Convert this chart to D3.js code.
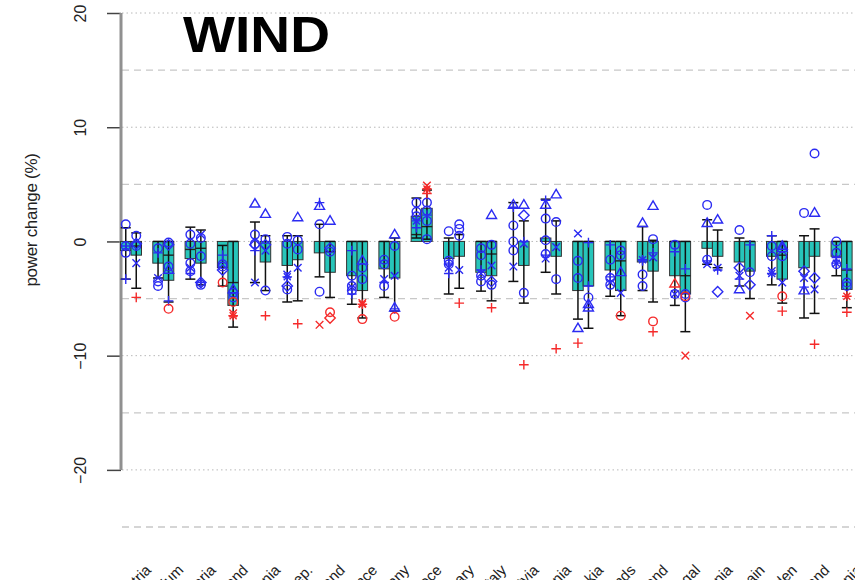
<!DOCTYPE html>
<html>
<head>
<meta charset="utf-8">
<script src="https://cdn.jsdelivr.net/npm/d3@7/dist/d3.min.js"></script>
<style>
  html, body { margin: 0; padding: 0; background: #fff; }
  svg { display: block; font-family: "Liberation Sans", Arial, sans-serif; }
</style>
</head>
<body>
<svg id="chart" width="855" height="580"></svg>
<script>
// Countries along the x axis
const countries = ["Austria","Belgium","Bulgaria","Switzerland","Estonia","Czech Rep.","Finland","France","Germany","Greece","Hungary","Italy","Latvia","Lithuania","Slovakia","Netherlands","Poland","Portugal","Romania","Spain","Sweden","Ireland","Slovenia"];

// Ensemble-mean bars (left and right scenario per country), power change in %
const barA = [-0.8,-1.9,-1.5,-2.3,0,-2.1,-1.0,-3.0,-2.4,2.2,-1.5,-2.7,0,0.3,-4.3,-2.5,-1.8,-3.0,-0.6,-1.8,-1.3,-2.3,-1.3];
const barB = [-1.2,-3.4,-1.9,-5.6,-1.8,-1.6,-2.7,-4.3,-3.2,2.9,-1.3,-3.0,-2.1,-1.3,-3.9,-4.3,-2.6,-4.6,-1.3,-2.6,-3.3,-1.3,-4.2];

// Median lines inside the bars (null = none drawn)
const midA = [null,null,-0.7,null,null,null,null,null,null,0.6,null,null,null,null,null,null,null,null,null,null,null,null,null];
const midB = [-0.4,-1.2,-0.6,-3.6,null,null,-0.9,null,null,1.3,null,-1.1,null,null,null,-1.7,null,-3.0,null,null,-1.2,null,-2.5];

// Whisker ranges
const hiA = [1.2,0,1.25,-0.35,1.7,0.5,1.5,0,0,3.8,0.3,0,3.4,3.7,0,0,1.3,0,1.9,0.3,0.5,0.5,0];
const loA = [-3.3,-3.2,-3.3,-3.9,-3.6,-5.3,-3.1,-5.5,-4.9,0.3,-4.6,-4.35,-3.5,-2.7,-6.8,-4.8,-4.3,-5.6,-2.0,-3.9,-3.8,-6.7,-3.0];
const hiB = [0.75,0,1.0,0,0.5,0.5,0,0,0.3,4.5,0.6,0,1.8,1.8,0,0,0.1,0,1.0,0,0,1.1,0];
const loB = [-4.1,-5.3,-3.8,-7.5,-4.3,-5.2,-4.9,-6.7,-6.1,0.2,-4.1,-5.2,-5.4,-4.6,-7.6,-6.5,-5.3,-7.9,-2.3,-5.0,-5.4,-6.3,-5.8];

// Individual model results: [symbol, value]; o circle, t triangle, + plus, x cross, d diamond, * star
const modelsA = [
  [["o",1.5],["o",-0.4],["o",-1.0],["+",-0.4],["+",-3.3]],
  [["+",-1.0],["o",-0.6],["x",-3.2],["o",-3.5],["o",-3.9]],
  [["o",0.6],["o",-0.2],["o",-1.9],["x",-2.3],["+",-2.8],["o",-2.6]],
  [["+",-1.2],["o",-2.0],["d",-2.5],["o",-2.2]],
  [["t",3.3],["o",0.6],["o",-0.2],["+",-0.8],["x",-3.6],["d",-0.3]],
  [["o",0.4],["o",-0.2],["x",-2.9],["*",-3.1],["o",-4.2],["d",-3.9]],
  [["t",3.1],["+",3.4],["o",1.5],["o",-4.4]],
  [["+",-0.8],["o",-3.0],["o",-3.9],["o",-4.3],["+",-4.6],["x",-4.0]],
  [["o",-2.0],["o",-1.6],["x",-3.3],["o",-3.9],["+",-3.6]],
  [["o",3.4],["o",2.6],["o",2.2],["*",1.8],["+",1.2]],
  [["o",0.9],["o",-1.7],["o",-2.0],["x",-2.3],["+",-2.8],["+",-1.9]],
  [["o",-0.6],["o",-1.2],["+",-2.5],["o",-3.0],["o",-3.5],["x",-2.8]],
  [["t",3.2],["+",3.0],["o",1.4],["o",0.0],["o",-0.8],["x",-2.2]],
  [["t",3.2],["+",3.6],["o",2.0],["o",0.1],["o",-1.1],["x",-1.5],["+",-1.2]],
  [["x",0.7],["o",-1.7],["o",-3.2],["t",-7.6]],
  [["+",-0.3],["o",-1.6],["o",-3.2],["o",-3.8],["x",-3.6],["+",-3.1]],
  [["t",1.6],["*",-1.6],["o",-2.9],["o",-3.9],["+",-1.7]],
  [["o",-0.3],["+",-0.9],["o",-4.6],["x",-4.6]],
  [["o",3.2],["t",1.6],["+",-1.7],["o",-1.6],["x",-2.0]],
  [["o",1.0],["d",-2.3],["x",-3.0],["t",-4.2],["+",-3.3]],
  [["+",0.5],["o",-0.4],["o",-1.3],["x",-2.6],["*",-2.8]],
  [["o",2.5],["d",-2.6],["x",-3.2],["t",-4.3],["+",-4.0]],
  [["o",0],["o",-1.0],["+",-1.4],["*",-1.9],["o",-2.0]]
];
const modelsB = [
  [["o",0.5],["o",-0.4],["d",-0.2],["x",-1.9]],
  [["o",-0.1],["d",-0.3],["t",-2.5],["o",-2.2],["+",-5.2]],
  [["o",0.3],["x",0.6],["o",-1.3],["o",-3.8],["d",-3.6],["+",-3.6]],
  [["o",-4.5],["o",-4.9],["t",-4.2]],
  [["t",2.4],["o",0.2],["x",-0.8],["o",-4.3],["d",-0.3]],
  [["t",2.1],["o",0.1],["o",-0.7],["x",-2.3]],
  [["t",1.8],["o",-0.9],["d",-0.6]],
  [["t",-1.7],["o",-2.3],["o",-3.3]],
  [["t",0.6],["o",-0.4],["x",-3.0],["t",-5.8],["+",-5.9]],
  [["o",3.4],["o",2.7],["o",1.8],["o",0.2],["+",2.3]],
  [["o",1.5],["o",1.1],["o",0.5],["x",-2.5]],
  [["t",2.3],["o",-0.3],["x",-2.1],["o",-3.8],["d",-3.5]],
  [["t",3.2],["d",2.3],["+",0.0],["x",-0.2],["o",-4.5]],
  [["t",4.1],["o",1.7],["x",-0.5],["o",-3.3]],
  [["+",-0.1],["+",-3.9],["o",-4.9],["t",-5.8],["t",-5.5]],
  [["o",-0.8],["t",-2.7],["x",-4.5],["o",-1.2]],
  [["t",3.1],["o",0.2],["x",-1.4],["+",-1.0]],
  [["+",-2.4],["o",-4.6],["o",-4.9]],
  [["t",1.9],["x",-2.3],["+",-2.5],["d",-4.4]],
  [["+",-0.3],["o",-2.7],["d",-3.8]],
  [["t",-0.4],["o",-1.3],["x",-3.6],["t",-0.6]],
  [["o",7.7],["t",2.5],["d",-3.2],["x",-4.2]],
  [["o",-3.6],["o",-3.9],["+",-2.4]]
];

// Outlying model results, drawn in red
const outliersA = [
  [],[],[],[["o",-3.6]],[],[],[["x",-7.3]],[],[],[],[],[],[],[],[["+",-8.9]],[],[],[["t",-3.7]],[],[],[],[],[]
];
const outliersB = [
  [["+",-4.9]],[["o",-5.9]],[],[["o",-5.3],["*",-6.5],["x",-6.3]],[["+",-6.5]],[["+",-7.2]],[["o",-6.2],["d",-6.7]],
  [["x",-5.4],["*",-5.5],["o",-6.8]],[["o",-6.6]],[["*",4.6],["x",4.9],["+",4.2]],[["+",-5.4]],[["+",-5.8]],
  [["+",-10.8]],[["+",-9.4]],[],[["o",-6.5]],[["o",-7.0],["+",-7.9]],[["o",-4.8],["x",-10.0]],[],[["x",-6.5]],
  [["o",-4.8],["+",-6.1]],[["+",-9.0]],[["*",-4.8],["+",-6.2]]
];

const yTicks = [20, 10, 0, -10, -20];
const yDashed = [15, 5, -5, -15, -25];

const svg = d3.select("#chart");
const W = 855, H = 580;

const y = d3.scaleLinear().domain([-25, 20]).range([527, 13]);
const x = d3.scaleBand().domain(countries).range([114.85, 114.85 + 32.3 * countries.length]).padding(0);
const sub = d3.scaleBand().domain(["A", "B"]).range([0, 21]).padding(0);
const cx = (c) => x(c) + x.bandwidth() / 2 - 10.5;

const BLUE = "#2b2bf2", RED = "#f52a2a", TEAL = "#27c5ba";

// Grid
const grid = svg.append("g");
grid.selectAll("line.dot").data(yTicks).join("line")
  .attr("x1", 122).attr("x2", W).attr("y1", d => y(d)).attr("y2", d => y(d))
  .attr("stroke", "#b8b8b8").attr("stroke-width", 1).attr("stroke-dasharray", "1.5,3");
grid.selectAll("line.dash").data(yDashed).join("line")
  .attr("x1", 122).attr("x2", W).attr("y1", d => y(d)).attr("y2", d => y(d))
  .attr("stroke", "#c8c8c8").attr("stroke-width", 1.3).attr("stroke-dasharray", "7,5");

// Y axis
const yAxis = d3.axisLeft(y).tickValues(yTicks).tickSize(14).tickFormat(d3.format("d"));
const ax = svg.append("g").attr("transform", "translate(121,0)").call(yAxis);
ax.select(".domain").remove();
ax.selectAll(".tick line").attr("stroke", "#444").attr("stroke-width", 1.5);
ax.selectAll(".tick text")
  .attr("x", null).attr("dy", null)
  .attr("transform", "translate(-39,0) rotate(-90)")
  .attr("text-anchor", "middle")
  .attr("dominant-baseline", "middle")
  .attr("font-size", 16).attr("fill", "#222")
  .attr("font-family", "'Liberation Sans', Arial, sans-serif");
svg.append("line").attr("x1", 121).attr("x2", 121).attr("y1", y(20)).attr("y2", y(-20))
  .attr("stroke", "#909090").attr("stroke-width", 3);

svg.append("text")
  .attr("transform", "translate(33," + 220 + ") rotate(-90)")
  .attr("text-anchor", "middle").attr("dominant-baseline", "middle")
  .attr("font-size", 17).attr("fill", "#222").attr("letter-spacing", "-0.3")
  .text("power change (%)");

// Bars, whiskers and model markers
const series = [
  {key: "A", bar: barA, mid: midA, hi: hiA, lo: loA, models: modelsA, out: outliersA},
  {key: "B", bar: barB, mid: midB, hi: hiB, lo: loB, models: modelsB, out: outliersB}
];

const shapes = {
  "o": "M4.3,0A4.3,4.3 0 1,1 -4.3,0A4.3,4.3 0 1,1 4.3,0Z",
  "t": "M0,-5.2L5,3.3L-5,3.3Z",
  "+": "M-4.8,0H4.8M0,-4.8V4.8",
  "x": "M-3.8,-3.8L3.8,3.8M-3.8,3.8L3.8,-3.8",
  "d": "M0,-5.2L5.2,0L0,5.2L-5.2,0Z",
  "*": "M-4.8,0H4.8M0,-4.8V4.8M-3.5,-3.5L3.5,3.5M-3.5,3.5L3.5,-3.5"
};

const plot = svg.append("g");
series.forEach(s => {
  const g = plot.append("g");
  const bx = (i) => cx(countries[i]) + sub(s.key);
  const bw = sub.bandwidth();
  g.selectAll("rect").data(countries).join("rect")
    .attr("x", (d, i) => bx(i))
    .attr("width", bw)
    .attr("y", (d, i) => y(Math.max(0, s.bar[i])))
    .attr("height", (d, i) => Math.abs(y(s.bar[i]) - y(0)))
    .attr("fill", TEAL).attr("stroke", "#333").attr("stroke-width", 1);
  g.selectAll("line.mid").data(countries.map((c, i) => i).filter(i => s.mid[i] !== null)).join("line")
    .attr("x1", i => bx(i)).attr("x2", i => bx(i) + bw)
    .attr("y1", i => y(s.mid[i])).attr("y2", i => y(s.mid[i]))
    .attr("stroke", "#222").attr("stroke-width", 1.4);
  // whiskers
  const wg = g.selectAll("g.wh").data(countries).join("g");
  wg.append("line")
    .attr("x1", (d, i) => bx(i) + bw / 2).attr("x2", (d, i) => bx(i) + bw / 2)
    .attr("y1", (d, i) => y(s.hi[i])).attr("y2", (d, i) => y(s.lo[i]))
    .attr("stroke", "#111").attr("stroke-width", 1.5);
  wg.append("line")
    .attr("x1", (d, i) => bx(i) + bw / 2 - 5).attr("x2", (d, i) => bx(i) + bw / 2 + 5)
    .attr("y1", (d, i) => y(s.hi[i])).attr("y2", (d, i) => y(s.hi[i]))
    .attr("stroke", "#111").attr("stroke-width", 1.5);
  wg.append("line")
    .attr("x1", (d, i) => bx(i) + bw / 2 - 5).attr("x2", (d, i) => bx(i) + bw / 2 + 5)
    .attr("y1", (d, i) => y(s.lo[i])).attr("y2", (d, i) => y(s.lo[i]))
    .attr("stroke", "#111").attr("stroke-width", 1.5);
});
series.forEach(s => {
  const bw = sub.bandwidth();
  const pts = [];
  countries.forEach((c, i) => {
    const px = cx(c) + sub(s.key) + bw / 2;
    s.models[i].forEach(m => pts.push({px, v: m[1], sh: m[0], col: BLUE}));
    s.out[i].forEach(m => pts.push({px, v: m[1], sh: m[0], col: RED}));
  });
  plot.append("g").selectAll("path").data(pts).join("path")
    .attr("transform", d => `translate(${d.px},${y(d.v)})`)
    .attr("d", d => shapes[d.sh])
    .attr("fill", "none").attr("stroke", d => d.col).attr("stroke-width", 1.4);
});

// Country labels, slanted and running off the bottom edge
svg.append("g").selectAll("text").data(countries).join("text")
  .attr("transform", d => `translate(${x(d) + x.bandwidth() / 2 + 21},571) rotate(-45)`)
  .attr("text-anchor", "end").attr("font-size", 15).attr("fill", "#222")
  .text(d => d);

// Title
svg.append("text").attr("x", 183).attr("y", 52)
  .attr("font-size", 50).attr("font-weight", "bold").attr("fill", "#000")
  .attr("textLength", 147).attr("lengthAdjust", "spacingAndGlyphs")
  .attr("font-family", "'Liberation Sans', Arial, sans-serif")
  .text("WIND");
</script>
</body>
</html>
